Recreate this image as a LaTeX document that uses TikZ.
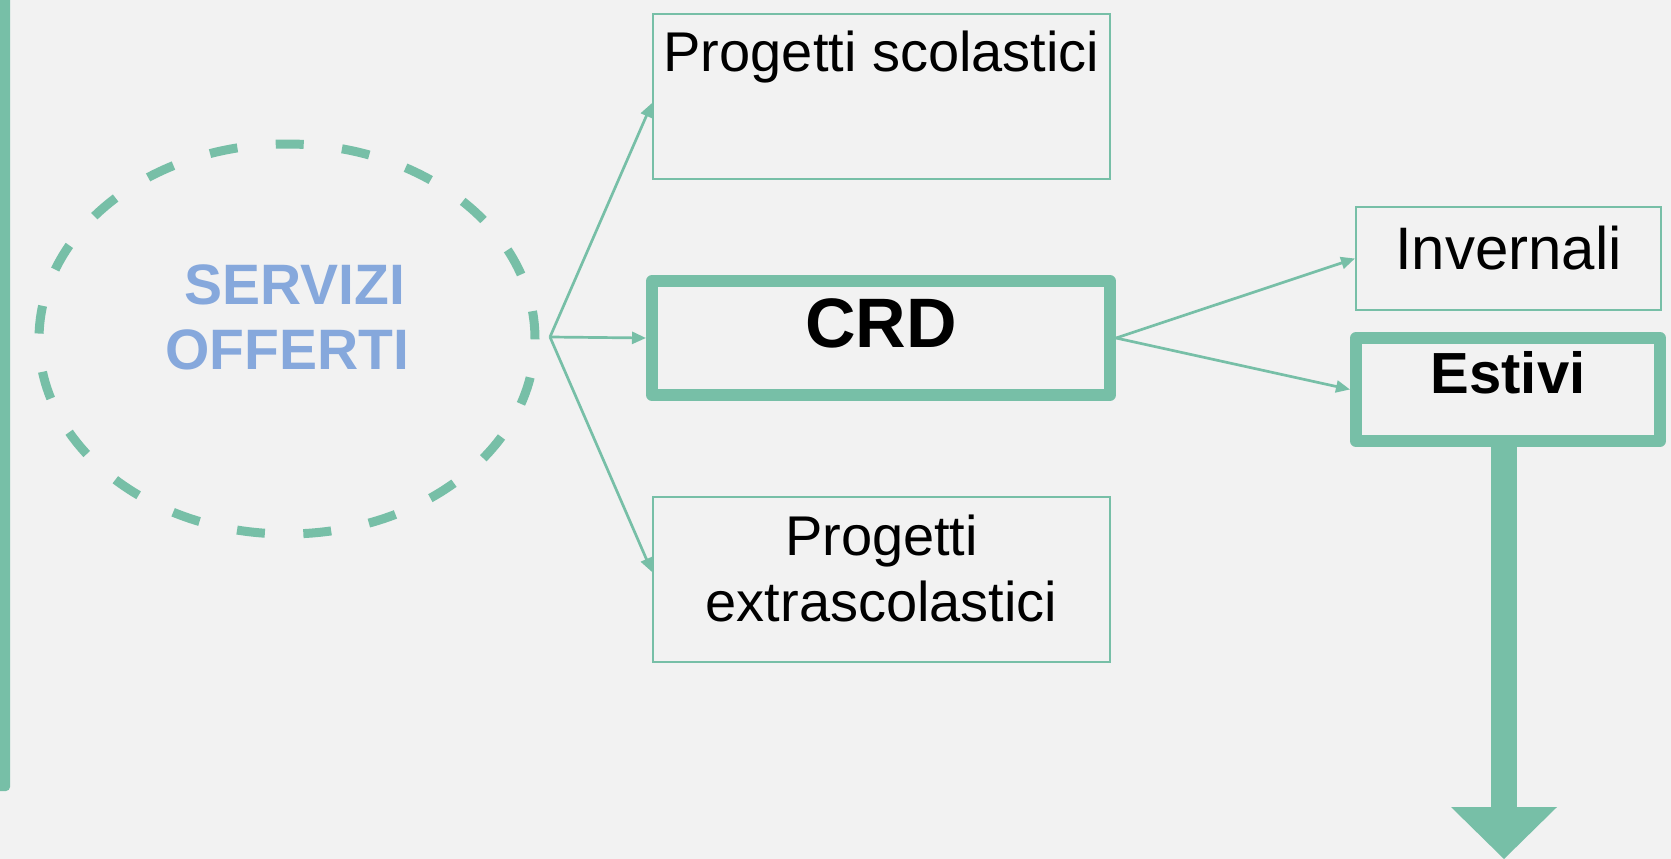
\documentclass[tikz,border=0pt]{standalone}
\usepackage{fontspec}
\setmainfont{Liberation Sans}
\usetikzlibrary{arrows.meta,shapes.geometric}

\definecolor{verde}{RGB}{119,191,167}
\definecolor{azzurro}{RGB}{134,168,220}
\definecolor{sfondo}{RGB}{242,242,242}

\tikzset{
  box/.style={draw=verde, rectangle, inner sep=0pt, line width=2pt},
  boxspesso/.style={box, line width=12pt, line join=round},
  freccia/.style={draw=verde, line width=2.7pt, -{Triangle[length=14pt,width=12pt]}},
  testo/.style={font=\fontsize{#1}{66}\selectfont},
  grassetto/.style={font=\fontsize{#1}{66}\selectfont\bfseries}
}

\begin{document}
\begin{tikzpicture}[x=1pt,y=-1pt]
    \useasboundingbox (0,0) rectangle (1671,859);
    \fill[sfondo] (0,0) rectangle (1671,859);
    \fill[verde, rounded corners=4pt] (-10,-10) rectangle (10,791);

    \node[draw=verde, ellipse, line width=9pt, dash pattern=on 28pt off 38.5pt,
          minimum width=496pt, minimum height=390pt, inner sep=0pt,
          align=center, text=azzurro, font=\fontsize{57}{65}\selectfont\bfseries,
          text height=107pt, text depth=47pt]
          (servizi) at (287,339) {\hspace*{16pt}SERVIZI\\OFFERTI};
    \coordinate (fork) at (550,337);

    \node[box, testo=56, minimum width=457pt, minimum height=165pt,
          text height=41pt, text depth=90pt] (scol) at (881.5,96.5) {Progetti scolastici};
    \node[boxspesso, grassetto=70, minimum width=458pt, minimum height=114pt,
          text height=51pt, text depth=33pt] (crd) at (881,338) {CRD};
    \node[box, testo=56, align=center, minimum width=457pt, minimum height=165pt,
          text height=107pt, text depth=24pt] (extra) at (881.5,579.5) {Progetti \\extrascolastici};

    \node[box, testo=60, minimum width=305pt, minimum height=103pt,
          text height=45pt, text depth=24pt] (inv) at (1508.5,258.5) {Invernali};
    \node[boxspesso, grassetto=58, minimum width=304pt, minimum height=103pt,
          text height=42pt, text depth=35pt] (est) at (1508,389.5) {Estivi};
    \coordinate (giu) at (1504,859);

    \draw[freccia] (fork) -- ([yshift=-6.5pt]scol.west);
    \draw[freccia] (fork) -- (crd.west);
    \draw[freccia] (fork) -- ([yshift=7.5pt]extra.west);
    \draw[freccia] (crd.east) -- (inv.west);
    \draw[freccia] (crd.east) -- (est.west);

    \draw[verde, line width=26pt, -{Triangle[length=52pt,width=106pt,line width=0pt]}]
      (est.south -| giu) -- (giu);
\end{tikzpicture}
\end{document}
